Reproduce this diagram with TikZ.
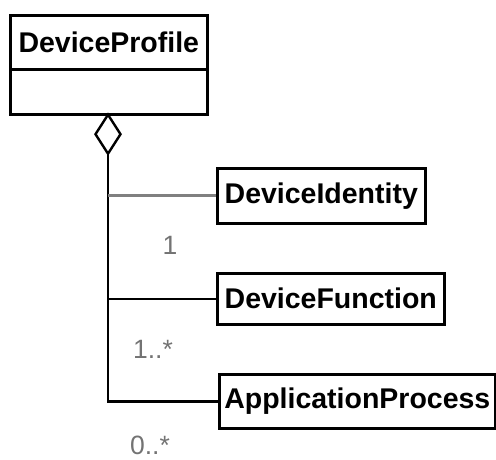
\documentclass[tikz,border=0pt]{standalone}
\usepackage{fontspec}
\setmainfont{Liberation Sans}
\usetikzlibrary{shapes.geometric}
\begin{document}
\begin{tikzpicture}[x=1pt,y=-1pt,
  classbox/.style={draw=black,line width=2.6pt,rectangle,inner sep=0pt,anchor=north west,font=\fontsize{28.5}{31}\selectfont\bfseries,align=center},
  conn/.style={draw=black,line width=2.4pt},
  mult/.style={text=black!55,font=\fontsize{26.5}{28}\selectfont,inner sep=0pt}]
\useasboundingbox (0,0) rectangle (496,460);
\node[classbox,minimum width=197pt,minimum height=54pt] (dpname) at (9,14) {DeviceProfile};
\node[classbox,minimum width=197pt,minimum height=45pt] (dpbody) at (9,68) {};
\node[draw=black,line width=2.4pt,diamond,inner sep=0pt,minimum width=26pt,minimum height=40pt,anchor=north,fill=white] (dia) at (108,113) {};
\node[classbox,minimum width=208pt,minimum height=55pt] (di) at (216,167) {DeviceIdentity};
\node[classbox,minimum width=227pt,minimum height=51pt] (df) at (216,272) {DeviceFunction};
\node[classbox,minimum width=276pt,minimum height=54pt] (ap) at (218,373) {ApplicationProcess};
\coordinate (trunkend) at (dia.south |- ap.west);
\draw[conn] (dia.south) -- (trunkend) -- (ap.west);
\draw[conn,draw=black!50,line width=2.8pt] (dia.south |- di.west) -- (di.west);
\draw[conn] (dia.south |- df.west) -- (df.west);
\node[mult] (m1) at (170,245) {1};
\node[mult] (m2) at (153,349) {1..*};
\node[mult] (m3) at (150,445) {0..*};
\end{tikzpicture}
\end{document}
